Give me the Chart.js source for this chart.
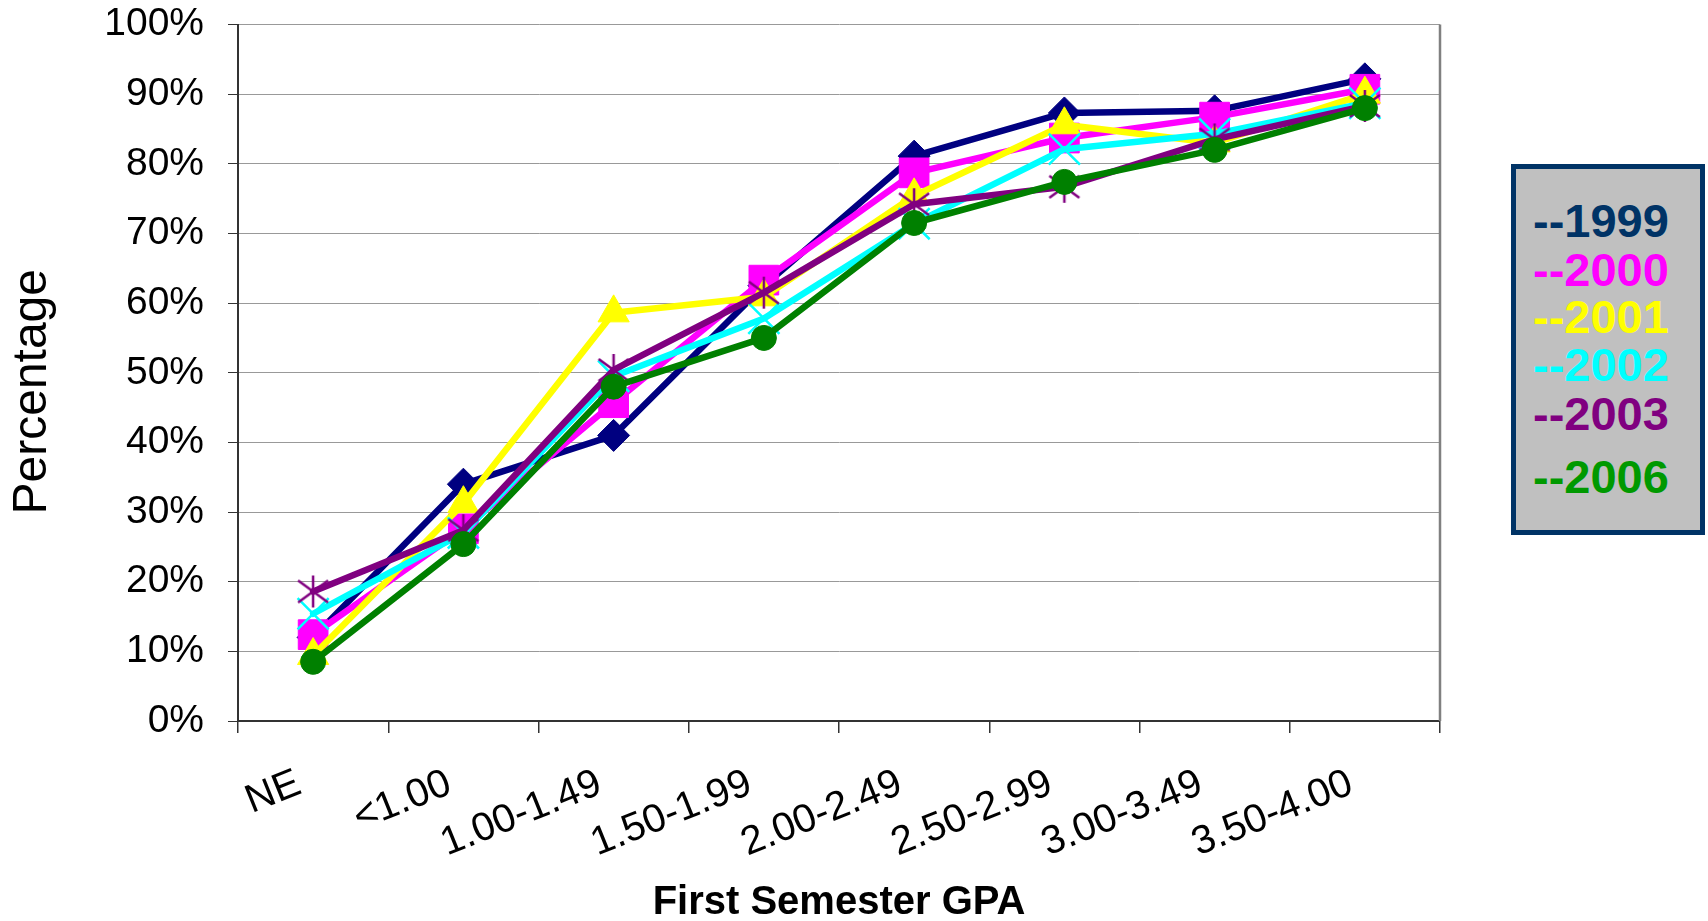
<!DOCTYPE html>
<html>
<head>
<meta charset="utf-8">
<script src="https://cdn.jsdelivr.net/npm/chart.js@4"></script>
<style>
  body { margin: 0; background: #fff; }
  #wrap { position: relative; width: 1708px; height: 921px; }
  #legendBox {
    position: absolute; left: 1511px; top: 164px; width: 194px; height: 371px;
    box-sizing: border-box; border: 5px solid #003366; background: #c0c0c0;
    font-family: "Liberation Sans", Arial, sans-serif; font-weight: bold; font-size: 47px;
  }
  #legendBox div { position: absolute; left: 17px; line-height: 1; }
</style>
</head>
<body>
<div id="wrap">
  <canvas id="gpaChart"></canvas>
  <div id="legendBox"></div>
</div>
<script>
const categories = ['NE', '<1.00', '1.00-1.49', '1.50-1.99', '2.00-2.49', '2.50-2.99', '3.00-3.49', '3.50-4.00'];
const years = ['1999', '2000', '2001', '2002', '2003', '2006'];
const yTitle = 'Percentage';

const values1999 = [12.0, 34.0, 41.0, 62.5, 81.1, 87.3, 87.6, 92.2];
const values2000 = [12.4, 27.6, 45.7, 63.3, 78.7, 83.7, 86.7, 90.7];
const values2001 = [9.4, 31.2, 58.6, 60.9, 75.4, 85.6, 83.0, 90.0];
const values2002 = [15.4, 27.0, 49.5, 57.8, 71.4, 82.1, 84.3, 88.7];
const values2003 = [18.6, 27.4, 50.4, 61.5, 74.2, 76.7, 83.5, 88.3];
const values2006 = [8.5, 25.4, 48.0, 55.0, 71.5, 77.4, 82.0, 88.0];

const lineColors = ['#000080', '#FF00FF', '#FFFF00', '#00FFFF', '#800080', '#008000'];
const legendColors = ['#003366', '#FF00FF', '#FFFF00', '#00FFFF', '#800080', '#009900'];
const legendTops = [197, 246, 293, 341, 390, 453];

// excel style asterisk marker: vertical bar plus an X
function makeAsterisk(color) {
    const c = document.createElement('canvas');
    c.width = 36;
    c.height = 36;
    const g = c.getContext('2d');
    g.strokeStyle = color;
    g.lineWidth = 2.5;
    g.beginPath();
    g.moveTo(18, 2); g.lineTo(18, 34);
    g.moveTo(3, 7); g.lineTo(33, 29);
    g.moveTo(33, 7); g.lineTo(3, 29);
    g.stroke();
    return c;
}

const allValues = [values1999, values2000, values2001, values2002, values2003, values2006];
const markers = [
    { style: 'rectRot', radius: 16, border: 1 },
    { style: 'rect', radius: 21, border: 1 },
    { style: 'triangle', radius: 18, border: 1 },
    { style: 'crossRot', radius: 22, border: 2.5 },
    { style: makeAsterisk('#800080'), radius: 16, border: 1 },
    { style: 'circle', radius: 12.5, border: 1 }
];

const datasets = years.map((year, i) => ({
    label: '--' + year,
    data: allValues[i],
    borderColor: lineColors[i],
    backgroundColor: lineColors[i],
    borderWidth: 6.5,
    borderJoinStyle: 'round',
    borderCapStyle: 'round',
    pointStyle: markers[i].style,
    pointRadius: markers[i].radius,
    pointHoverRadius: markers[i].radius,
    pointBorderWidth: markers[i].border,
    pointBorderColor: lineColors[i],
    pointBackgroundColor: lineColors[i],
    order: years.length - i
}));

const font = 'Liberation Sans, Arial, sans-serif';

const frame = {
    id: 'frame',
    afterDraw(chart) {
        const { ctx, chartArea } = chart;
        ctx.save();
        // right border of the plot area
        ctx.strokeStyle = '#808080';
        ctx.lineWidth = 2.5;
        ctx.beginPath();
        ctx.moveTo(chartArea.right, chartArea.top);
        ctx.lineTo(chartArea.right, chartArea.bottom);
        ctx.stroke();
        // y axis title, sits a bit below the middle like the original
        ctx.translate(33, (chartArea.top + chartArea.bottom) / 2 + 19);
        ctx.rotate(-Math.PI / 2);
        ctx.fillStyle = '#000';
        ctx.font = '48px ' + font;
        ctx.textAlign = 'center';
        ctx.textBaseline = 'middle';
        ctx.fillText(yTitle, 0, 0);
        ctx.restore();
    }
};

const ctx = document.getElementById('gpaChart').getContext('2d');
new Chart(ctx, {
    type: 'line',
    data: { labels: categories, datasets: datasets },
    options: {
        responsive: true,
        maintainAspectRatio: false,
        animation: false,
        layout: { padding: { top: 21, right: 268, left: 0, bottom: 0 } },
        plugins: {
            legend: { display: false },
            tooltip: { enabled: false }
        },
        scales: {
            x: {
                offset: true,
                afterFit(scale) { scale.height = 200; },
                grid: { offset: true, drawOnChartArea: false, tickLength: 12, tickColor: '#333', lineWidth: 1.5 },
                border: { color: '#333', width: 2 },
                ticks: {
                    color: '#000', font: { family: font, size: 40 },
                    minRotation: 22, maxRotation: 22, padding: 27, labelOffset: -14, autoSkip: false
                },
                title: {
                    display: true, text: 'First Semester GPA', color: '#000',
                    font: { family: font, size: 40, weight: 'bold', lineHeight: 0.9 },
                    padding: { top: 0, bottom: 0 }
                }
            },
            y: {
                min: 0,
                max: 100,
                afterFit(scale) {
                    scale.width = 238;
                    scale.paddingTop = 0;
                    scale.paddingBottom = 0;
                },
                grid: { color: '#999', lineWidth: 1, tickLength: 10, tickColor: '#333' },
                border: { color: '#333', width: 2 },
                ticks: {
                    stepSize: 10, color: '#000', padding: 24,
                    font: { family: font, size: 39 },
                    callback: v => v + '%'
                }
            }
        }
    },
    plugins: [frame]
});

const legendBox = document.getElementById('legendBox');
years.forEach((year, i) => {
    const item = document.createElement('div');
    item.textContent = '--' + year;
    item.style.color = legendColors[i];
    item.style.top = (legendTops[i] - 164 - 5) + 'px';
    legendBox.appendChild(item);
});
</script>
</body>
</html>
